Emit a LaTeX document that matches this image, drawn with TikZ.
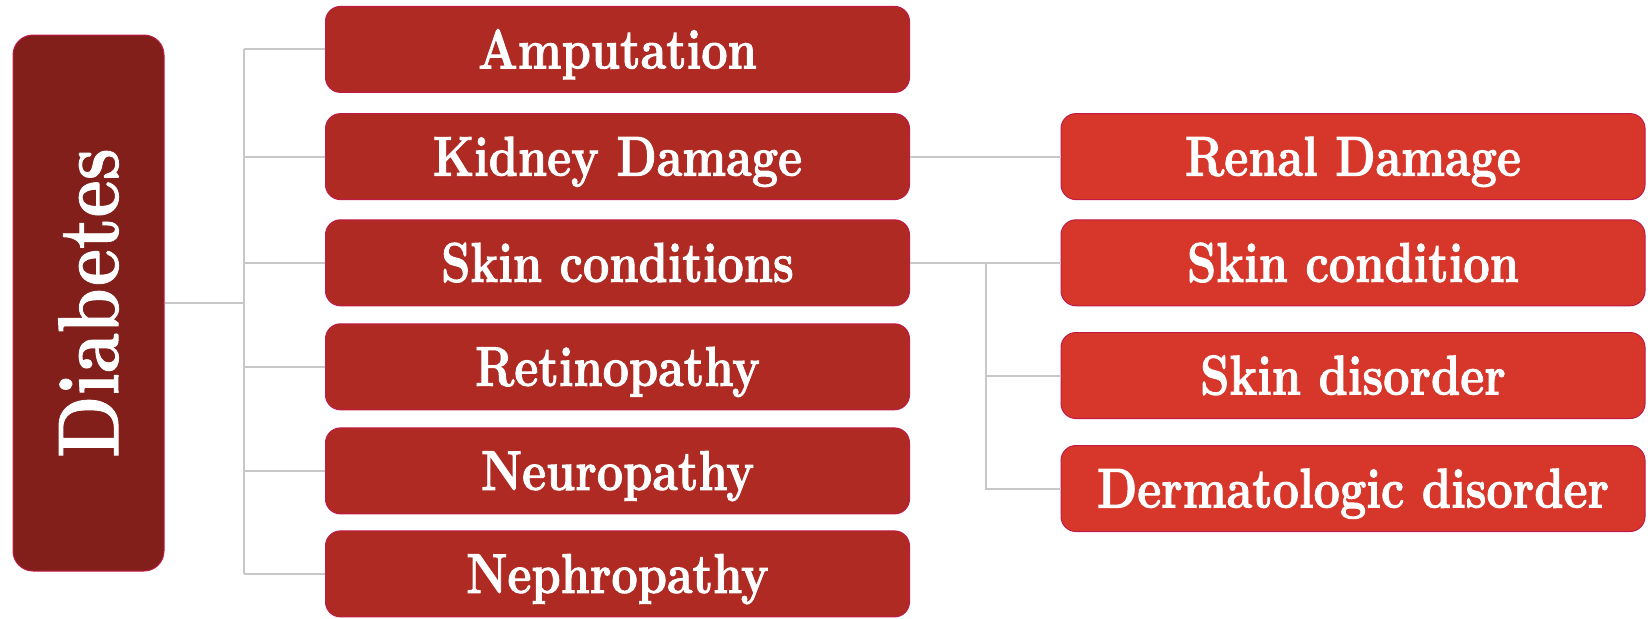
\documentclass[tikz,border=0pt]{standalone}
\usepackage{fontspec}
\usepackage{tikz}
\usetikzlibrary{positioning}

\definecolor{rootred}{RGB}{130,31,26}
\definecolor{midred}{RGB}{175,42,34}
\definecolor{leafred}{RGB}{215,55,43}
\definecolor{edgered}{RGB}{192,26,72}
\definecolor{linkgray}{RGB}{200,200,200}

% condensed, slightly heavier text
\newcommand{\heavy}[2]{\scalebox{#1}[1]{\special{pdf:code 2 Tr 0.5 w}#2\special{pdf:code 0 Tr}}}
\newcommand{\narrow}[1]{\heavy{0.835}{#1}}

\tikzset{
  box/.style={rectangle,rounded corners=7.5pt,draw=edgered,line width=0.5pt,
    text=white,minimum width=292pt,minimum height=43pt,inner sep=0pt,
    text height=19pt,text depth=0pt,
    font=\fontsize{28}{32}\selectfont\bfseries},
  midbox/.style={box,fill=midred},
  leafbox/.style={box,fill=leafred},
  rootbox/.style={rectangle,rounded corners=10pt,draw=edgered,line width=0.5pt,
    fill=rootred,text=white,rotate=90,minimum width=268pt,minimum height=75.5pt,
    inner sep=0pt,font=\fontsize{43}{48}\selectfont\bfseries},
  link/.style={draw=linkgray,line width=1pt}
}

\begin{document}
\begin{tikzpicture}[x=0.5pt,y=-0.5pt]
\useasboundingbox (0,0) rectangle (1648,618);

\node[rootbox] (diab) at (88.5,303) {\heavy{0.84}{Diabetes}};

\node[midbox] (amp)  at (617.5,49.4)  {\narrow{Amputation}};
\node[midbox] (kid)  at (617.5,156.6) {\narrow{Kidney Damage}};
\node[midbox] (skin) at (617.5,262.8) {\narrow{Skin conditions}};
\node[midbox] (ret)  at (617.5,366.8) {\narrow{Retinopathy}};
\node[midbox] (neu)  at (617.5,470.9) {\narrow{Neuropathy}};
\node[midbox] (neph) at (617.5,573.9) {\narrow{Nephropathy}};

\node[leafbox] (renal) at (1353,156.6) {\narrow{Renal Damage}};
\node[leafbox] (skinc) at (1353,262.8) {\narrow{Skin condition}};
\node[leafbox] (skind) at (1353,375.5) {\narrow{Skin disorder}};
\node[leafbox] (derm)  at (1353,488.5) {\narrow{Dermatologic disorder}};

% left tree (diab is turned, so its south side faces right)
\coordinate (jA) at (244,0);
\draw[link] (diab.south) -- (diab.south -| jA);
\draw[link] (amp.west -| jA) -- (neph.west -| jA);
\foreach \n in {amp,kid,skin,ret,neu,neph}
  \draw[link] (\n.west -| jA) -- (\n.west);

% right tree
\coordinate (jB) at (986,0);
\draw[link] (kid.east) -- (renal.west);
\draw[link] (skin.east) -- (skinc.west);
\draw[link] (skin.east -| jB) |- (derm.west);
\draw[link] (skind.west -| jB) -- (skind.west);
\end{tikzpicture}
\end{document}
